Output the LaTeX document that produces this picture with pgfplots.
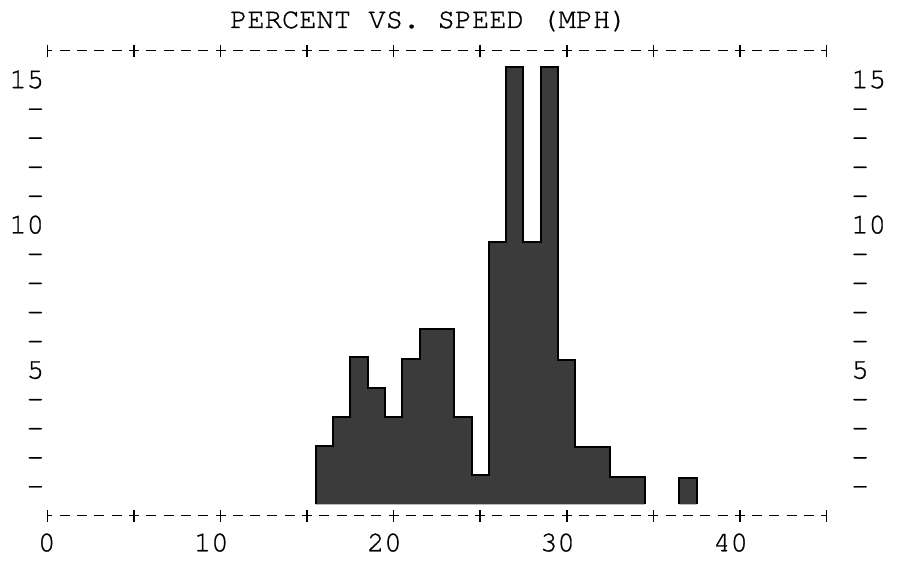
\documentclass[border=0pt]{standalone}
\usepackage{pgfplots}
\pgfplotsset{compat=1.18}
\usepackage{fontspec}
\newfontfamily\tw{texgyrecursor-regular.otf}[FakeBold=1]
\newcommand{\twf}{\tw\fontsize{14.4}{14.4}\selectfont}
\definecolor{barfill}{gray}{0.23}
\begin{document}
\begin{tikzpicture}
\path[use as bounding box] (-23.7pt,-23.25pt) rectangle (424.8pt,257.75pt);
\begin{axis}[
  at={(0pt,0pt)}, anchor=south west,
  scale only axis, width=389.5pt, height=232.4pt,
  xmin=0, xmax=45, ymin=0, ymax=16,
  separate axis lines,
  x axis line style={line width=0.8pt, dash pattern=on 5pt off 3.655pt, dash phase=2.5pt},
  y axis line style={draw=none},
  tick align=center, major tick length=6pt,
  xtick={0,5,...,45}, xticklabels={0,,10,,20,,30,,40,},
  xtick style={line width=0.8pt, solid, black},
  ytick={1,...,15}, yticklabels={-,-,-,-,5,-,-,-,-,10,-,-,-,-,15},
  ytick style={draw=none},
  xticklabel style={font=\twf, anchor=base east, inner sep=0pt, xshift=4.2pt, yshift=-14.9pt},
  yticklabel style={font=\twf, anchor=east, inner sep=0pt, xshift=1.5pt, text height=8.4pt, text depth=0pt},
  title={PERCENT VS. SPEED (MPH)},
  title style={font=\twf, anchor=base, at={(0.5,1)}, yshift=5.35pt, xshift=-4pt, inner sep=0pt},
  clip=false,
]
\addplot[const plot, fill=barfill, draw=black, line width=1pt] coordinates {
  (15.5,0.38) (15.5,2.4) (16.5,3.4) (17.5,5.45) (18.5,4.4) (19.5,3.4)
  (20.5,5.4) (21.5,6.42) (22.5,6.42) (23.5,3.4) (24.5,1.38) (25.5,9.4)
  (26.5,15.45) (27.5,9.4) (28.5,15.45) (29.5,5.35) (30.5,2.35) (31.5,2.35)
  (32.5,1.32) (33.5,1.32) (34.5,0.38)
};
\addplot[const plot, fill=barfill, draw=black, line width=1pt] coordinates {
  (36.5,0.38) (36.5,1.3) (37.5,0.38)
};
\end{axis}
\begin{axis}[
  at={(0pt,0pt)}, anchor=south west,
  scale only axis, width=389.5pt, height=232.4pt,
  xmin=0, xmax=45, ymin=0, ymax=16,
  axis x line=none, axis y line*=right,
  y axis line style={draw=none},
  ytick={1,...,15}, yticklabels={-,-,-,-,5,-,-,-,-,10,-,-,-,-,15},
  ytick style={draw=none},
  yticklabel style={font=\twf, anchor=west, inner sep=0pt, xshift=12.3pt, text height=8.4pt, text depth=0pt},
]
\end{axis}
\end{tikzpicture}
\end{document}
